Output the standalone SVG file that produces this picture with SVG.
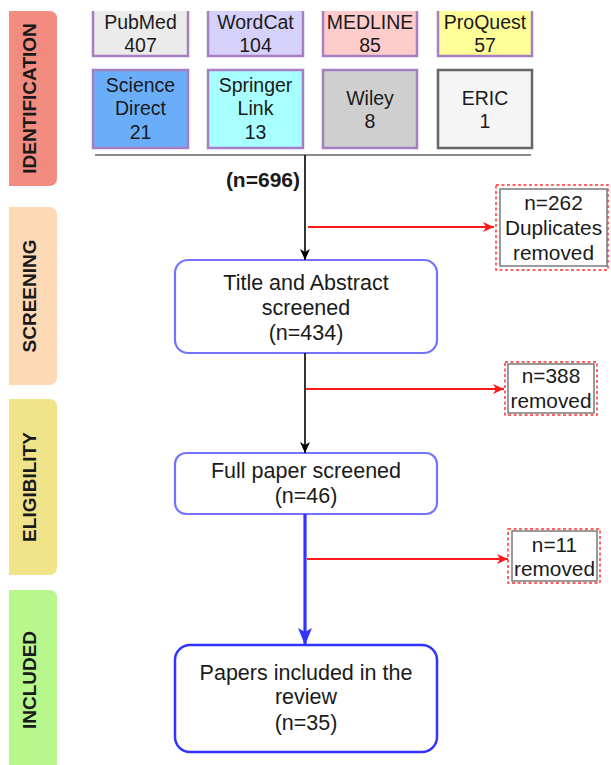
<svg xmlns="http://www.w3.org/2000/svg" width="611" height="765" viewBox="0 0 611 765">
<defs>
<style>
text{font-family:"Liberation Sans",Arial,sans-serif;fill:#1a1a1a;}
.tab{font-size:19px;font-weight:bold;text-anchor:middle;}
.src{font-size:19.5px;text-anchor:middle;}
.flow{font-size:21.5px;text-anchor:middle;}
.rem{font-size:20.8px;text-anchor:middle;}
.srcbox{stroke:#a67fc2;stroke-width:2.5;}
.flowbox{fill:#fff;stroke:#7373ff;stroke-width:2.2;}
.outer{fill:none;stroke:#ff3333;stroke-width:1.5;stroke-dasharray:3 2.5;}
.inner{fill:#fff;stroke:#7a7a7a;stroke-width:1.5;}
</style>
<marker id="ahBlack" markerUnits="userSpaceOnUse" markerWidth="12" markerHeight="12" refX="11" refY="6" orient="auto" viewBox="0 0 12 12">
<path d="M0,1 L11,6 L0,11 L3,6 z" fill="#000"/>
</marker>
<marker id="ahRed" markerUnits="userSpaceOnUse" markerWidth="12" markerHeight="12" refX="11" refY="6" orient="auto" viewBox="0 0 12 12">
<path d="M0,1 L11,6 L0,11 L3,6 z" fill="#ff1a1a"/>
</marker>
<marker id="ahBlue" markerUnits="userSpaceOnUse" markerWidth="18" markerHeight="16" refX="17" refY="8" orient="auto" viewBox="0 0 18 16">
<path d="M0,1 L17,8 L0,15 L4,8 z" fill="#3333ff"/>
</marker>
</defs>
<rect width="611" height="765" fill="#fff"/>

<g id="tab-identification">
<path d="M9,11 H49 Q57,11 57,19 V178 Q57,186 49,186 H9 Z" fill="#f28b80"/>
<text class="tab" transform="translate(36,98.5) rotate(-90)">IDENTIFICATION</text>
</g>
<g id="tab-screening">
<path d="M9,207 H49 Q57,207 57,215 V377 Q57,385 49,385 H9 Z" fill="#fdd9b5"/>
<text class="tab" transform="translate(36,296) rotate(-90)">SCREENING</text>
</g>
<g id="tab-eligibility">
<path d="M9,399 H49 Q57,399 57,407 V567 Q57,575 49,575 H9 Z" fill="#f1e38a"/>
<text class="tab" transform="translate(36,487) rotate(-90)">ELIGIBILITY</text>
</g>
<g id="tab-included">
<path d="M9,590 H49 Q57,590 57,598 V762 Q57,770 49,770 H9 Z" fill="#b7f78c"/>
<text class="tab" transform="translate(36,680) rotate(-90)">INCLUDED</text>
</g>

<g id="pubmed">
<rect x="93" y="11" width="95" height="45" fill="#ebebeb"/>
<path class="srcbox" fill="none" d="M93,11 V56 H188 V11"/>
<text class="src" x="140.5" y="29">PubMed</text>
<text class="src" x="140.5" y="52">407</text>
</g>
<g id="wordcat">
<rect x="208" y="11" width="95" height="45" fill="#d5d1fb"/>
<path class="srcbox" fill="none" d="M208,11 V56 H303 V11"/>
<text class="src" x="255.5" y="29">WordCat</text>
<text class="src" x="255.5" y="52">104</text>
</g>
<g id="medline">
<rect x="323" y="11" width="94" height="45" fill="#ffcccc"/>
<path class="srcbox" fill="none" d="M323,11 V56 H417 V11"/>
<text class="src" x="370" y="29">MEDLINE</text>
<text class="src" x="370" y="52">85</text>
</g>
<g id="proquest">
<rect x="438" y="11" width="94" height="45" fill="#ffff9a"/>
<path class="srcbox" fill="none" d="M438,11 V56 H532 V11"/>
<text class="src" x="485" y="29">ProQuest</text>
<text class="src" x="485" y="52">57</text>
</g>

<g id="sciencedirect">
<rect class="srcbox" x="93" y="70" width="95" height="78" fill="#6aaefa"/>
<text class="src" x="140.5" y="92">Science</text>
<text class="src" x="140.5" y="115">Direct</text>
<text class="src" x="140.5" y="139">21</text>
</g>
<g id="springerlink">
<rect class="srcbox" x="208" y="70" width="95" height="78" fill="#a8ffff"/>
<text class="src" x="255.5" y="92">Springer</text>
<text class="src" x="255.5" y="115">Link</text>
<text class="src" x="255.5" y="139">13</text>
</g>
<g id="wiley">
<rect class="srcbox" x="323" y="70" width="94" height="78" fill="#cfcfcf"/>
<text class="src" x="370" y="105">Wiley</text>
<text class="src" x="370" y="128">8</text>
</g>
<g id="eric">
<rect x="438" y="70" width="94" height="78" fill="#f5f5f5" stroke="#666" stroke-width="2.5"/>
<text class="src" x="485" y="105">ERIC</text>
<text class="src" x="485" y="128">1</text>
</g>

<g id="title-abstract">
<rect class="flowbox" x="175" y="260" width="262" height="93" rx="13"/>
<text class="flow" x="306" y="290">Title and Abstract</text>
<text class="flow" x="306" y="315">screened</text>
<text class="flow" x="306" y="340">(n=434)</text>
</g>
<g id="full-paper">
<rect class="flowbox" x="175" y="453" width="262" height="61" rx="11"/>
<text class="flow" x="306" y="478">Full paper screened</text>
<text class="flow" x="306" y="503">(n=46)</text>
</g>
<g id="included">
<rect x="175" y="645" width="262" height="107" rx="15" fill="#fff" stroke="#3333ff" stroke-width="2.5"/>
<text class="flow" x="306" y="680">Papers included in the</text>
<text class="flow" x="306" y="704">review</text>
<text class="flow" x="306" y="730">(n=35)</text>
</g>

<g id="dup-removed">
<rect class="outer" x="496" y="185" width="112" height="85"/>
<rect class="inner" x="500" y="189" width="107" height="77"/>
<text class="rem" x="553.5" y="210">n=262</text>
<text class="rem" x="553.5" y="235">Duplicates</text>
<text class="rem" x="553.5" y="260">removed</text>
</g>
<g id="removed-388">
<rect class="outer" x="505" y="362" width="92" height="53"/>
<rect class="inner" x="508" y="364" width="86" height="49"/>
<text class="rem" x="551" y="383">n=388</text>
<text class="rem" x="551" y="408">removed</text>
</g>
<g id="removed-11">
<rect class="outer" x="508" y="529" width="92" height="54"/>
<rect class="inner" x="512" y="531" width="85" height="50"/>
<text class="rem" x="554.5" y="552">n=11</text>
<text class="rem" x="554.5" y="576">removed</text>
</g>

<g id="connectors">
<line x1="95" y1="155" x2="531" y2="155" stroke="#8c8c8c" stroke-width="2"/>
<text x="300" y="187" font-size="21px" font-weight="bold" text-anchor="end">(n=696)</text>
<line x1="305" y1="155" x2="305" y2="260" stroke="#000" stroke-width="1.6" marker-end="url(#ahBlack)"/>
<line x1="308" y1="227" x2="494" y2="227" stroke="#ff1a1a" stroke-width="1.8" marker-end="url(#ahRed)"/>
<line x1="305" y1="353" x2="305" y2="453" stroke="#000" stroke-width="1.6" marker-end="url(#ahBlack)"/>
<line x1="306" y1="389" x2="504" y2="389" stroke="#ff1a1a" stroke-width="1.8" marker-end="url(#ahRed)"/>
<line x1="305" y1="514" x2="305" y2="645" stroke="#3333ff" stroke-width="3.2" marker-end="url(#ahBlue)"/>
<line x1="307" y1="559" x2="508" y2="559" stroke="#ff1a1a" stroke-width="1.8" marker-end="url(#ahRed)"/>
</g>
</svg>
